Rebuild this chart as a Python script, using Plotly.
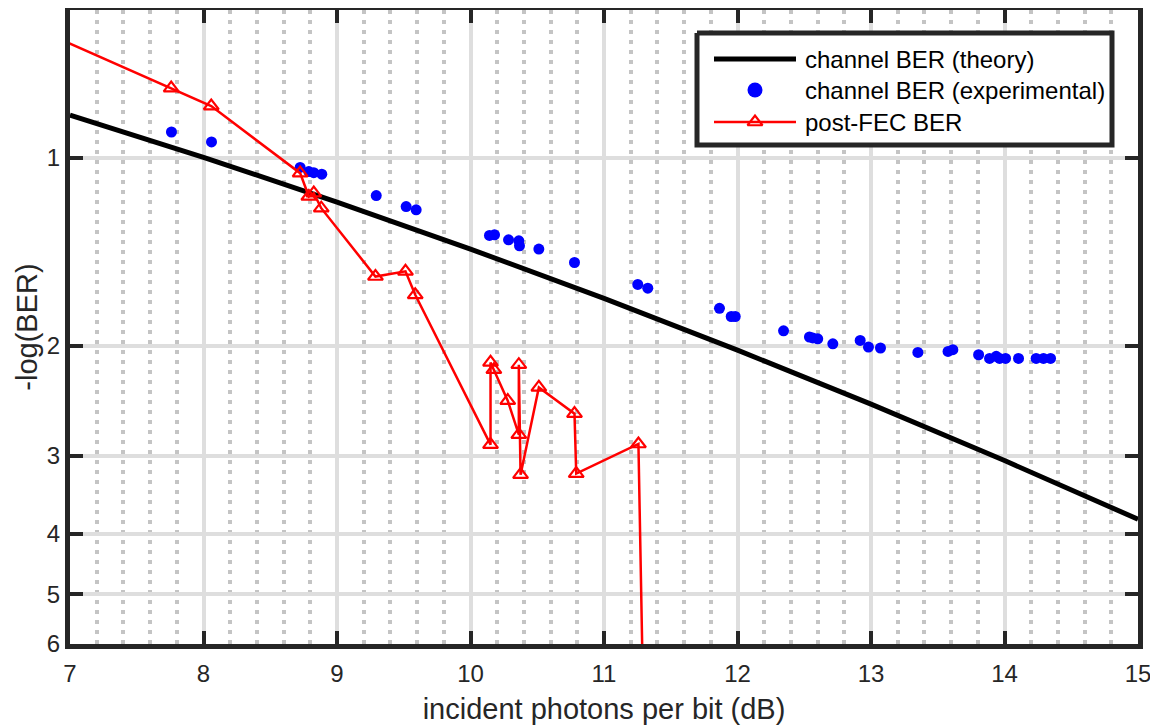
import math
import plotly.graph_objects as go

# ---------------- data ----------------
theory_x = [7, 8, 9, 10, 11, 12, 13, 14, 15]
theory_y = [0.855, 0.999, 1.178, 1.401, 1.680, 2.033, 2.481, 3.054, 3.791]

exp_x = [7.76, 8.06, 8.724, 8.789, 8.826, 8.886, 9.294, 9.518, 9.593,
         10.142, 10.180, 10.285, 10.362, 10.367, 10.512, 10.779,
         11.253, 11.328, 11.865, 11.953, 11.983, 12.345, 12.539, 12.564,
         12.601, 12.714, 12.919, 12.981, 13.071, 13.351, 13.577, 13.613,
         13.806, 13.888, 13.938, 13.963, 14.008, 14.105, 14.237, 14.292, 14.345]
exp_y = [0.910, 0.944, 1.037, 1.053, 1.057, 1.063, 1.150, 1.198, 1.212,
         1.332, 1.329, 1.354, 1.359, 1.384, 1.401, 1.472,
         1.596, 1.618, 1.743, 1.796, 1.796, 1.893, 1.937, 1.944,
         1.950, 1.986, 1.962, 2.010, 2.017, 2.050, 2.043, 2.030,
         2.068, 2.096, 2.080, 2.096, 2.096, 2.096, 2.096, 2.096, 2.096]

fec_x = [6.6, 7.758, 8.058, 8.724, 8.789, 8.826, 8.882, 9.288, 9.513, 9.586,
         10.150, 10.150, 10.175, 10.279, 10.362, 10.362, 10.375, 10.512,
         10.779, 10.792, 11.258, 11.305]
fec_y = [0.602, 0.774, 0.827, 1.059, 1.154, 1.140, 1.205, 1.550, 1.521, 1.658,
         2.880, 2.127, 2.185, 2.449, 2.776, 2.145, 3.217, 2.332,
         2.569, 3.204, 2.873, 10.0]

y_ticks = [1, 2, 3, 4, 5, 6]
x_range = [7, 15]
y_range = [0.5805, 6.004]

labels = ["channel BER (theory)", "channel BER (experimental)", "post-FEC BER"]

# ---------------- figure ----------------
FONT = "Liberation Sans, Arial, Helvetica, sans-serif"
AX = "#262626"

# page offset (body margin) compensation
OFF = 8
W, H = 1158 - OFF, 725 - OFF
L, R, T, B = 70, 1138, 10, 644   # plot area in page pixels

fig = go.Figure()
fig.add_trace(go.Scatter(x=theory_x, y=theory_y, mode="lines",
                         line=dict(color="black", width=5), showlegend=False))
fig.add_trace(go.Scatter(x=exp_x, y=exp_y, mode="markers",
                         marker=dict(color="#0000ff", size=11), showlegend=False))
fig.add_trace(go.Scatter(x=fec_x, y=fec_y, mode="lines+markers",
                         line=dict(color="#ff0000", width=2.5),
                         marker=dict(symbol="triangle-up-open", size=13,
                                     color="#ff0000", line=dict(width=2.2, color="#ff0000")),
                         showlegend=False))

# ---- manual legend on a pixel-unit overlay axis ----
bx0, bx1, by0, by1 = 697, 1112, 33, 145
rows = [59, 90, 122]
sx0, sx1, sxm, tx = 714, 796, 755, 803
fig.add_trace(go.Scatter(x=[bx0, bx1, bx1, bx0, bx0], y=[by0, by0, by1, by1, by0],
                         mode="lines", fill="toself", fillcolor="white",
                         line=dict(color=AX, width=5), xaxis="x2", yaxis="y2",
                         showlegend=False, hoverinfo="skip"))
fig.add_trace(go.Scatter(x=[sx0, sx1], y=[rows[0]] * 2, mode="lines",
                         line=dict(color="black", width=5), xaxis="x2", yaxis="y2",
                         showlegend=False, hoverinfo="skip"))
fig.add_trace(go.Scatter(x=[sxm], y=[rows[1]], mode="markers",
                         marker=dict(color="#0000ff", size=15), xaxis="x2", yaxis="y2",
                         showlegend=False, hoverinfo="skip"))
fig.add_trace(go.Scatter(x=[sx0, sx1], y=[rows[2]] * 2, mode="lines",
                         line=dict(color="#ff0000", width=2.5), xaxis="x2", yaxis="y2",
                         showlegend=False, hoverinfo="skip"))
fig.add_trace(go.Scatter(x=[sxm], y=[rows[2]], mode="markers",
                         marker=dict(symbol="triangle-up-open", size=13, color="#ff0000",
                                     line=dict(width=2.2, color="#ff0000")),
                         xaxis="x2", yaxis="y2", showlegend=False, hoverinfo="skip"))
for lab, ry in zip(labels, rows):
    fig.add_annotation(x=tx, y=ry, xref="x2", yref="y2", text=lab, showarrow=False,
                       xanchor="left", yanchor="middle",
                       font=dict(family=FONT, size=24, color="black"))

fig.update_layout(
    width=W, height=H,
    margin=dict(l=L - OFF, r=W - (R - OFF), t=T - OFF, b=H - (B - OFF), autoexpand=False),
    paper_bgcolor="white", plot_bgcolor="white",
    showlegend=False,
    font=dict(family=FONT, size=24, color=AX),
    xaxis=dict(range=x_range, dtick=1, tick0=7,
               showgrid=True, gridcolor="#dedede", gridwidth=4,
               minor=dict(dtick=0.2, tick0=7, showgrid=True, gridcolor="#c4c4c4",
                          gridwidth=4, griddash="4px,6px", ticks=""),
               showline=True, linecolor=AX, linewidth=5, mirror="allticks",
               ticks="inside", ticklen=13, tickwidth=4, tickcolor=AX,
               zeroline=False, ticklabelstandoff=4,
               tickfont=dict(family=FONT, size=24, color=AX),
               title=dict(text="incident photons per bit (dB)",
                          font=dict(family=FONT, size=29, color=AX), standoff=16)),
    yaxis=dict(type="log", range=[math.log10(y_range[1]), math.log10(y_range[0])],
               tickvals=y_ticks, ticktext=[str(v) for v in y_ticks],
               showgrid=True, gridcolor="#dedede", gridwidth=4,
               showline=True, linecolor=AX, linewidth=5, mirror="allticks",
               ticks="inside", ticklen=13, tickwidth=4, tickcolor=AX,
               zeroline=False,
               tickfont=dict(family=FONT, size=24, color=AX),
               title=dict(text="-log(BER)",
                          font=dict(family=FONT, size=29, color=AX), standoff=2)),
    xaxis2=dict(overlaying="x", range=[L, R], visible=False, fixedrange=True),
    yaxis2=dict(overlaying="y", range=[B, T], visible=False, fixedrange=True),
)

fig.write_html("out.html")
